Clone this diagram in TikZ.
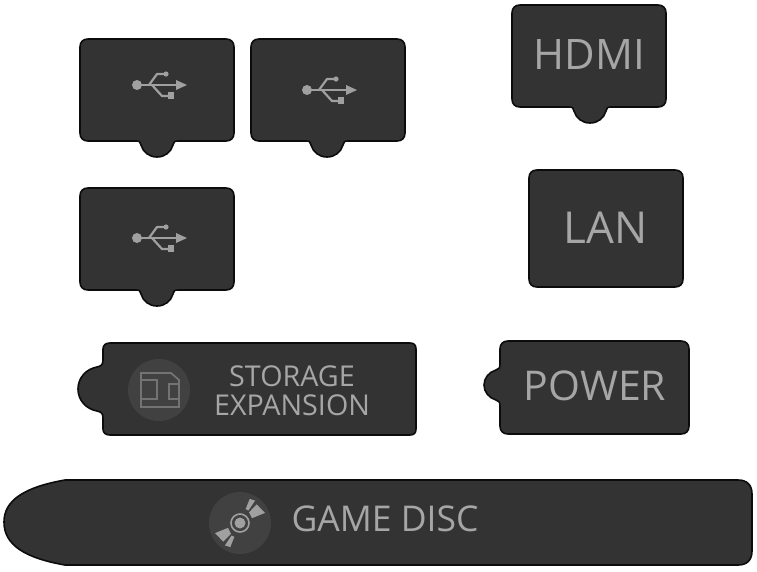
\documentclass[tikz,border=0pt]{standalone}
\usepackage{fontspec}
\setmainfont{Open Sans}
\definecolor{capfill}{HTML}{333333}
\definecolor{capedge}{HTML}{0C0C0C}
\definecolor{captext}{HTML}{A6A6A6}
\definecolor{icondisc}{HTML}{414141}
\definecolor{iconline}{HTML}{737373}
\definecolor{iconusb}{HTML}{A0A0A0}
\tikzset{
  capshape/.style={fill=capfill,draw=capedge,line width=1.6pt},
  caplabel/.style={text=captext,inner sep=0pt,align=center},
  usbline/.style={draw=iconusb,line width=2.2pt,line cap=round,line join=round},
  sdline/.style={draw=iconline,line width=1.8pt},
  discwedge/.style={fill=iconusb},
}
\newcommand{\usbicon}[2]{%
  \begin{scope}[shift={(#1,#2)}]
    \fill[iconusb] (-23,0) circle (5);
    \path[usbline] (-20,0) -- (18,0);
    \fill[iconusb] (16,-5) -- (27,0) -- (16,5) -- cycle;
    \path[usbline] (-11,0) -- (-3,-11) -- (5,-11);
    \fill[iconusb] (6,-11) circle (2.6);
    \path[usbline] (-8,0) -- (2,11) -- (9,11);
    \fill[iconusb] (8,7) rectangle (14,14);
  \end{scope}}
\newcommand{\usbcap}[4]{%
  \begin{scope}[shift={(#1,#2)}]
    \path[capshape] (8,0) -- (146,0) .. controls (151,0) and (154,3) .. (154,8)
      -- (154,94) .. controls (154,99) and (151,102) .. (146,102)
      -- (#3+21,102) .. controls (#3+17,102) and (#3+17,103) .. (#3+16,106)
      .. controls (#3+14,113) and (#3+8,118) .. (#3,118)
      .. controls (#3-8,118) and (#3-14,113) .. (#3-16,106)
      .. controls (#3-17,103) and (#3-17,102) .. (#3-21,102)
      -- (8,102) .. controls (3,102) and (0,99) .. (0,94)
      -- (0,8) .. controls (0,3) and (3,0) .. (8,0) -- cycle;
  \end{scope}}
\begin{document}
\begin{tikzpicture}[x=1pt,y=-1pt]
\useasboundingbox (0,0) rectangle (757,571);
% USB caps
\usbcap{80}{39}{77}{}
\usbcap{251}{39}{76}{}
\usbcap{80}{188}{77}{}
\usbcap{512}{5}{78}{}
\usbicon{160}{85}
\usbicon{330}{90}
\usbicon{160}{238}
\node[caplabel,font=\fontsize{42}{42}\selectfont] (hdmi) at (589.5,55) {HDMI};
% LAN
\path[capshape] (537,170) -- (675,170) .. controls (680,170) and (683,173) .. (683,178)
  -- (683,279) .. controls (683,284) and (680,287) .. (675,287)
  -- (537,287) .. controls (532,287) and (529,284) .. (529,279)
  -- (529,178) .. controls (529,173) and (532,170) .. (537,170) -- cycle;
\node[caplabel,font=\fontsize{44}{44}\selectfont] (lan) at (605.5,228) {LAN};
% POWER
\path[capshape] (508,341) -- (681,341) .. controls (686,341) and (689,344) .. (689,349)
  -- (689,426) .. controls (689,431) and (686,434) .. (681,434)
  -- (508,434) .. controls (503,434) and (500,431) .. (500,426)
  -- (500,406) .. controls (500,402) and (499,401) .. (496,400)
  .. controls (489,398) and (484,392) .. (484,385)
  .. controls (484,378) and (489,372) .. (496,370)
  .. controls (499,369) and (500,368) .. (500,364)
  -- (500,349) .. controls (500,344) and (503,341) .. (508,341) -- cycle;
\node[caplabel,font=\fontsize{41}{41}\selectfont] (power) at (595,386) {POWER};
% STORAGE
\path[capshape] (110,343) -- (410,343) .. controls (414,343) and (416,345) .. (416,349)
  -- (416,429) .. controls (416,433) and (414,435) .. (410,435)
  -- (110,435) .. controls (106,435) and (103,433) .. (103,429)
  -- (103,418) .. controls (103,413) and (101,412) .. (97,411)
  .. controls (86,409) and (78,400) .. (78,389)
  .. controls (78,378) and (86,369) .. (97,367)
  .. controls (101,366) and (103,365) .. (103,360)
  -- (103,349) .. controls (103,345) and (106,343) .. (110,343) -- cycle;
\fill[icondisc] (159,390) circle (31);
\path[sdline] (141,373) -- (171,373) -- (179,380) -- (179,407) -- (141,407) -- cycle;
\path[sdline] (142,380) -- (157,380) -- (157,399) -- (142,399);
\path[sdline] (179,384) -- (169,384) -- (169,399) -- (179,399);
\node[caplabel,font=\fontsize{28.7}{29}\selectfont] (storage) at (292,390.5) {STORAGE\\EXPANSION};
% GAME DISC
\path[capshape] (65,480) -- (738,480) .. controls (747,480) and (752,485) .. (752,494)
  -- (752,551) .. controls (752,560) and (747,565) .. (738,565)
  -- (65,565) .. controls (25,558) and (4,545) .. (4,522)
  .. controls (4,500) and (25,487) .. (65,480) -- cycle;
\fill[icondisc] (240,523) circle (31);
\begin{scope}[shift={(240,523)}]
  \draw[iconusb,line width=1.6pt] (0,0) circle (9);
  \fill[iconusb] (0,0) circle (5.5);
  \foreach \r in {0,180}{
    \fill[discwedge] (-22+\r:13) -- (-22+\r:27) -- (-48+\r:25) -- (-50+\r:14) -- cycle;
    \fill[discwedge] (-56+\r:15) -- (-56+\r:27) -- (-68+\r:26) -- (-68+\r:15) -- cycle;
  }
\end{scope}
\node[caplabel,font=\fontsize{35.5}{36}\selectfont] (disc) at (385,519) {GAME DISC};
\end{tikzpicture}
\end{document}
